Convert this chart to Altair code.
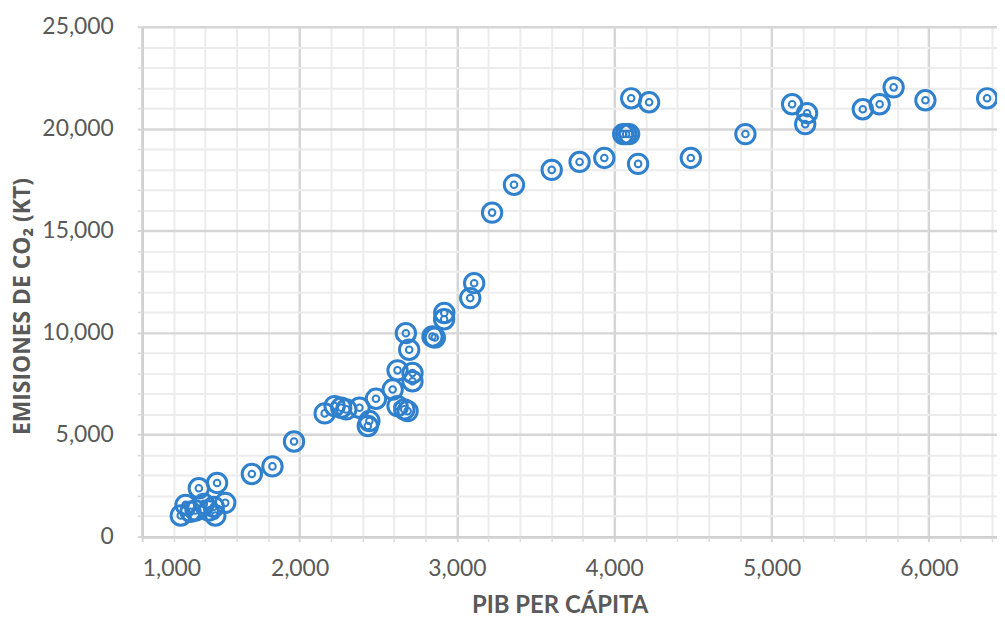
import altair as alt
import pandas as pd

# PIB per cápita (x) and CO2 emissions in kt (y)
pib = [1245, 1276, 1360, 1476, 1528, 1392, 1423, 1455, 1339, 1307, 1465,
       1697, 1828, 1965,
       2160, 2223, 2265, 2297, 2381, 2434, 2444, 2486, 2592, 2623, 2623,
       2666, 2687, 2718, 2718, 2676, 2697, 2845, 2860, 2919, 2920,
       3085, 3110, 3224, 3363, 3603, 3780, 3937,
       4057, 4076, 4095, 4108, 4222, 4152, 4487, 4834,
       5131, 5226, 5214, 5580, 5687, 5776, 5978, 6370]
co2 = [1038, 1559, 2373, 2632, 1657, 1608, 1282, 1462, 1282, 1218, 1038,
       3070, 3445, 4664,
       6043, 6400, 6320, 6238, 6320, 5424, 5668, 6759, 7212, 8153, 6400,
       6238, 6155, 8023, 7617, 9975, 9162, 9812, 9760, 10658, 10965,
       11696, 12427, 15887, 17251, 17982, 18372, 18567,
       19737, 19737, 19737, 21491, 21296, 18275, 18567, 19737,
       21199, 20760, 20224, 20955, 21199, 22027, 21394, 21491]

x_major = [1000, 2000, 3000, 4000, 5000, 6000]
x_minor = [v for v in range(1200, 6434, 200) if v % 1000]
y_major = [0, 5000, 10000, 15000, 20000, 25000]
y_minor = [v for v in range(1000, 25000, 1000) if v % 5000]

df = pd.DataFrame({"pib": pib, "co2": co2})

BLUE = "#2f80cd"
TXT = "#595959"
FONT = "Lato"

xscale = alt.Scale(domain=[1000, 6433], nice=False, zero=False)
yscale = alt.Scale(domain=[0, 25000], nice=False)

outer = alt.Chart(df).mark_point(
    shape="circle", filled=False, size=380, strokeWidth=3, color=BLUE, opacity=1
).encode(
    x=alt.X("pib:Q", scale=xscale, axis=alt.Axis(
        orient="bottom", values=x_major, format=",d", title="PIB PER CÁPITA",
        grid=True, gridColor="#d6d6d6", gridWidth=2.5,
        domain=True, domainColor="#d0d0d0", domainWidth=2.5,
        ticks=True, tickColor="#d6d6d6", tickWidth=2, tickSize=5,
        labelFont=FONT, labelFontSize=23, labelColor=TXT, labelPadding=16,
        titleFont=FONT, titleFontSize=24, titleFontWeight="bold", titleColor=TXT,
        titleX=420, titleY=76, titleBaseline="alphabetic", titleAlign="center")),
    y=alt.Y("co2:Q", scale=yscale, axis=alt.Axis(
        orient="left", values=y_major, format=",d", title="EMISIONES DE CO₂ (KT)",
        grid=True, gridColor="#d6d6d6", gridWidth=2.5,
        domain=True, domainColor="#d0d0d0", domainWidth=2.5,
        ticks=True, tickColor="#d6d6d6", tickWidth=2, tickSize=5,
        labelFont=FONT, labelFontSize=23, labelColor=TXT, labelPadding=24,
        titleFont="Open Sans", titleFontSize=23, titleFontWeight="bold", titleColor=TXT,
        titleX=-120, titleY=281, titleBaseline="middle", titleAlign="center")),
)

inner = alt.Chart(df).mark_point(
    shape="circle", filled=False, size=44, strokeWidth=2, color=BLUE, opacity=1
).encode(
    x=alt.X("pib:Q", scale=xscale, axis=alt.Axis(
        orient="bottom", values=x_minor, labels=False, title=None,
        grid=True, gridColor="#ececec", gridWidth=2,
        domain=False, ticks=True, tickColor="#dcdcdc", tickWidth=1.5, tickSize=5)),
    y=alt.Y("co2:Q", scale=yscale, axis=alt.Axis(
        orient="left", values=y_minor, labels=False, title=None,
        grid=True, gridColor="#ececec", gridWidth=2,
        domain=False, ticks=True, tickColor="#dcdcdc", tickWidth=1.5, tickSize=5)),
)

chart = alt.layer(outer, inner).resolve_axis(
    x="independent", y="independent"
).properties(
    width=860, height=513,
    autosize=alt.AutoSizeParams(type="none"),
    padding={"left": 135, "top": 17, "right": 0, "bottom": 80},
).configure_view(stroke=None)

chart.save("out.html", embed_options={"renderer": "svg", "actions": False})
